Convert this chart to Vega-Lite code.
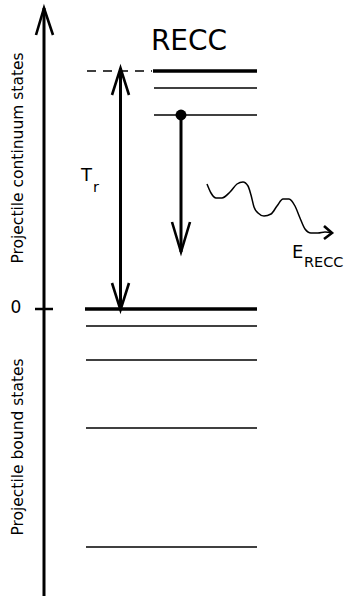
{
  "$schema": "https://vega.github.io/schema/vega-lite/v6.json",
  "width": 349,
  "height": 596,
  "padding": 0,
  "autosize": "none",
  "background": "white",
  "config": {"view": {"stroke": null}, "font": "DejaVu Sans"},
  "datasets": {
    "thickLevels": [
      {"x": 85, "x2": 257, "e": 0},
      {"x": 153, "x2": 257, "e": 238}
    ],
    "thinLevels": [
      {"x": 154, "x2": 257, "e": 221},
      {"x": 154, "x2": 257, "e": 194},
      {"x": 86, "x2": 257, "e": -17},
      {"x": 86, "x2": 257, "e": -51},
      {"x": 86, "x2": 257, "e": -119},
      {"x": 86, "x2": 257, "e": -238}
    ],
    "dashed": [{"x": 87, "x2": 152, "e": 238}],
    "shafts": [
      {"x": 44, "e": -287, "e2": 301},
      {"x": 120.5, "e": -1, "e2": 241},
      {"x": 181, "e": 57, "e2": 194}
    ],
    "zeroTick": [{"x": 35, "x2": 53, "e": 0}],
    "heads": [
      {"seg": "axis", "i": 0, "x": 36, "e": 274},
      {"seg": "axis", "i": 1, "x": 44, "e": 301},
      {"seg": "axis", "i": 2, "x": 53, "e": 274},
      {"seg": "trTop", "i": 0, "x": 112, "e": 214},
      {"seg": "trTop", "i": 1, "x": 120.5, "e": 241},
      {"seg": "trTop", "i": 2, "x": 129, "e": 214},
      {"seg": "trBottom", "i": 0, "x": 112, "e": 26},
      {"seg": "trBottom", "i": 1, "x": 120.5, "e": -1},
      {"seg": "trBottom", "i": 2, "x": 129, "e": 26},
      {"seg": "down", "i": 0, "x": 172, "e": 87},
      {"seg": "down", "i": 1, "x": 181, "e": 57},
      {"seg": "down", "i": 2, "x": 190, "e": 87},
      {"seg": "photon", "i": 0, "x": 324, "e": 83},
      {"seg": "photon", "i": 1, "x": 332, "e": 76},
      {"seg": "photon", "i": 2, "x": 324, "e": 70}
    ],
    "photon": [
      {"x": 207, "e": 125},
      {"x": 211, "e": 116},
      {"x": 216, "e": 111},
      {"x": 222, "e": 111},
      {"x": 230, "e": 117},
      {"x": 237, "e": 125},
      {"x": 243, "e": 127},
      {"x": 248, "e": 123},
      {"x": 251, "e": 114},
      {"x": 254, "e": 102},
      {"x": 258, "e": 96},
      {"x": 264, "e": 93},
      {"x": 271, "e": 95},
      {"x": 277, "e": 103},
      {"x": 283, "e": 110},
      {"x": 289, "e": 110},
      {"x": 295, "e": 103},
      {"x": 300, "e": 91},
      {"x": 305, "e": 80},
      {"x": 311, "e": 76},
      {"x": 318, "e": 76},
      {"x": 325, "e": 77},
      {"x": 332, "e": 76}
    ],
    "electron": [{"x": 181, "e": 194}],
    "title": [{"x": 189, "e": 267, "text": "RECC"}],
    "zeroLabel": [{"x": 16, "e": 1, "text": "0"}],
    "sideLabels": [
      {"x": 18, "e": 151, "text": "Projectile continuum states"},
      {"x": 18, "e": -138, "text": "Projectile bound states"}
    ],
    "mainSymbols": [
      {"x": 81, "e": 133, "text": "T"},
      {"x": 292, "e": 56, "text": "E"}
    ],
    "subscripts": [
      {"x": 93, "e": 121.5, "text": "r"},
      {"x": 304, "e": 46.5, "text": "RECC"}
    ]
  },
  "layer": [
    {
      "data": {"name": "thickLevels"},
      "mark": {"type": "rule", "strokeWidth": 3.5, "color": "black", "strokeCap": "butt"},
      "encoding": {
        "x": {"field": "x", "type": "quantitative", "scale": {"domain": [0, 349], "nice": false, "zero": false}, "axis": null},
        "x2": {"field": "x2"},
        "y": {"field": "e", "type": "quantitative", "scale": {"domain": [-287, 309], "nice": false, "zero": false}, "axis": null}
      }
    },
    {
      "data": {"name": "thinLevels"},
      "mark": {"type": "rule", "strokeWidth": 1.3, "color": "black", "strokeCap": "butt"},
      "encoding": {
        "x": {"field": "x", "type": "quantitative"},
        "x2": {"field": "x2"},
        "y": {"field": "e", "type": "quantitative"}
      }
    },
    {
      "data": {"name": "dashed"},
      "mark": {"type": "rule", "strokeWidth": 1.5, "color": "black", "strokeDash": [9, 7], "strokeCap": "butt"},
      "encoding": {
        "x": {"field": "x", "type": "quantitative"},
        "x2": {"field": "x2"},
        "y": {"field": "e", "type": "quantitative"}
      }
    },
    {
      "data": {"name": "zeroTick"},
      "mark": {"type": "rule", "strokeWidth": 2.5, "color": "black", "strokeCap": "butt"},
      "encoding": {
        "x": {"field": "x", "type": "quantitative"},
        "x2": {"field": "x2"},
        "y": {"field": "e", "type": "quantitative"}
      }
    },
    {
      "data": {"name": "shafts"},
      "mark": {"type": "rule", "strokeWidth": 3, "color": "black", "strokeCap": "butt"},
      "encoding": {
        "x": {"field": "x", "type": "quantitative"},
        "y": {"field": "e", "type": "quantitative"},
        "y2": {"field": "e2"}
      }
    },
    {
      "data": {"name": "heads"},
      "mark": {"type": "line", "strokeWidth": 2.6, "color": "black", "strokeJoin": "miter", "strokeCap": "butt", "strokeMiterLimit": 10},
      "encoding": {
        "x": {"field": "x", "type": "quantitative"},
        "y": {"field": "e", "type": "quantitative"},
        "detail": {"field": "seg"},
        "order": {"field": "i"}
      }
    },
    {
      "data": {"name": "photon"},
      "mark": {"type": "line", "strokeWidth": 1.5, "color": "black", "interpolate": "monotone"},
      "encoding": {
        "x": {"field": "x", "type": "quantitative"},
        "y": {"field": "e", "type": "quantitative"}
      }
    },
    {
      "data": {"name": "electron"},
      "mark": {"type": "circle", "size": 120, "color": "black", "opacity": 1},
      "encoding": {
        "x": {"field": "x", "type": "quantitative"},
        "y": {"field": "e", "type": "quantitative"}
      }
    },
    {
      "data": {"name": "title"},
      "mark": {"type": "text", "fontSize": 28, "align": "center", "baseline": "middle", "color": "black"},
      "encoding": {
        "x": {"field": "x", "type": "quantitative"},
        "y": {"field": "e", "type": "quantitative"},
        "text": {"field": "text"}
      }
    },
    {
      "data": {"name": "zeroLabel"},
      "mark": {"type": "text", "fontSize": 17, "align": "center", "baseline": "middle", "color": "black"},
      "encoding": {
        "x": {"field": "x", "type": "quantitative"},
        "y": {"field": "e", "type": "quantitative"},
        "text": {"field": "text"}
      }
    },
    {
      "data": {"name": "sideLabels"},
      "mark": {"type": "text", "fontSize": 15.5, "angle": 270, "align": "center", "baseline": "middle", "color": "black"},
      "encoding": {
        "x": {"field": "x", "type": "quantitative"},
        "y": {"field": "e", "type": "quantitative"},
        "text": {"field": "text"}
      }
    },
    {
      "data": {"name": "mainSymbols"},
      "mark": {"type": "text", "fontSize": 18, "align": "left", "baseline": "middle", "color": "black"},
      "encoding": {
        "x": {"field": "x", "type": "quantitative"},
        "y": {"field": "e", "type": "quantitative"},
        "text": {"field": "text"}
      }
    },
    {
      "data": {"name": "subscripts"},
      "mark": {"type": "text", "fontSize": 14.5, "align": "left", "baseline": "middle", "color": "black"},
      "encoding": {
        "x": {"field": "x", "type": "quantitative"},
        "y": {"field": "e", "type": "quantitative"},
        "text": {"field": "text"}
      }
    }
  ]
}
